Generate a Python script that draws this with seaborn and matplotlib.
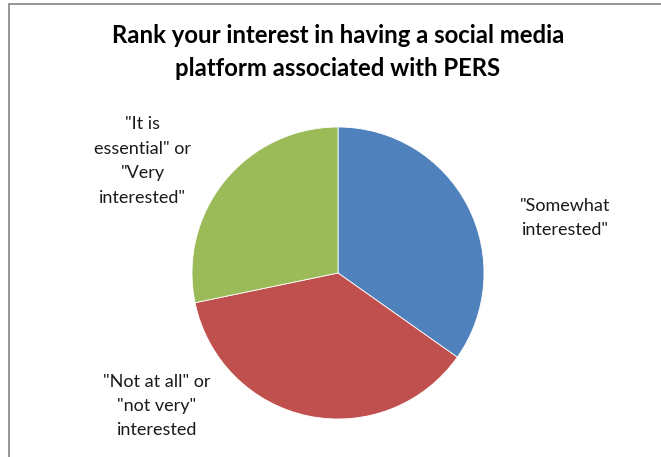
import matplotlib
matplotlib.use("Agg")
import matplotlib.pyplot as plt
import seaborn as sns
from matplotlib.lines import Line2D

sns.set_theme(style="white")
plt.rcParams['font.family'] = ['Lato', 'DejaVu Sans']

title = "Rank your interest in having a social media\nplatform associated with PERS"
categories = ['"Somewhat\ninterested"',
              '"Not at all" or\n"not very"\ninterested',
              '"It is\nessential" or\n"Very\ninterested"']
counts = [16, 17, 13]
colors = ["#4F81BD", "#C0504D", "#9BBB59"]
label_xy = [(1.555, 0.377), (-1.24, -0.911), (-1.336, 0.767)]

W, H = 661, 457
fig = plt.figure(figsize=(W / 100, H / 100), dpi=100)
fig.patch.set_facecolor("white")

# frame lines (top and left)
fig.add_artist(Line2D([9 / W, 9 / W], [0, 1 - 4 / H], transform=fig.transFigure,
                      color="#8c8c8c", lw=1.3))
fig.add_artist(Line2D([9 / W, 1], [1 - 4 / H, 1 - 4 / H], transform=fig.transFigure,
                      color="#8c8c8c", lw=1.3))

cx, cy, r = 338, 273, 146
ax = fig.add_axes([(cx - r) / W, (H - cy - r) / H, 2 * r / W, 2 * r / H])
wedges, texts = ax.pie(counts, labels=categories, colors=colors, startangle=90,
                       counterclock=False, radius=1.0,
                       wedgeprops=dict(linewidth=0.6, edgecolor="white"),
                       textprops=dict(fontsize=13, color="#1a1a1a", ha="center",
                                      va="center", linespacing=1.65))
for t, (x, y) in zip(texts, label_xy):
    t.set_position((x, y))
    t.set_ha("center")
    t.set_va("center")
    t.set_clip_on(False)
ax.set_xlim(-1, 1)
ax.set_ylim(-1, 1)
ax.set_aspect("equal")
ax.axis("off")

fig.text(338 / W, 1 - 52 / H, title, ha="center", va="center", fontsize=17.2,
         fontweight="bold", color="#000000", linespacing=1.55)

fig.savefig("out.png", dpi=100, facecolor="white")
